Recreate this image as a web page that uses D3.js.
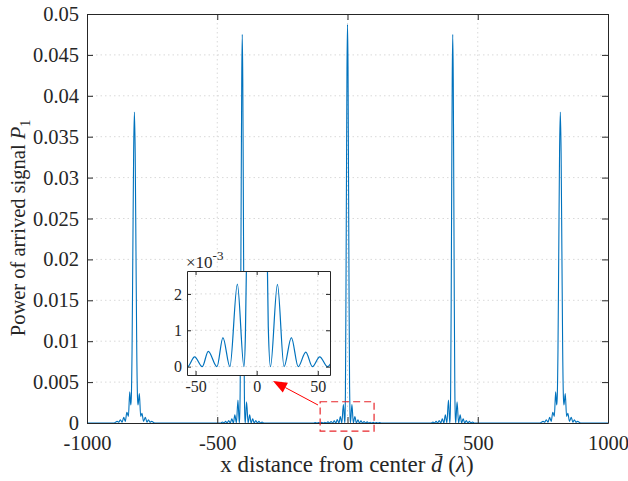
<!DOCTYPE html>
<html><head><meta charset="utf-8">
<script src="https://cdn.jsdelivr.net/npm/d3@7"></script>
<style>
html,body{margin:0;padding:0;background:#fff;}
svg text{font-family:"Liberation Serif","Times New Roman",serif;fill:#262626;}
</style></head>
<body><svg id="c" width="628" height="481"></svg>
<script>
// ---- data ----
const xTicks = [-1000, -500, 0, 500, 1000];
const xTickLabels = ["-1000", "-500", "0", "500", "1000"];
const yTicks = [0, 0.005, 0.01, 0.015, 0.02, 0.025, 0.03, 0.035, 0.04, 0.045, 0.05];
const yTickLabels = ["0","0.005","0.01","0.015","0.02","0.025","0.03","0.035","0.04","0.045","0.05"];
const insetXTicks = [-50, 0, 50];
const insetXTickLabels = ["-50", "0", "50"];
const insetYTicks = [0, 0.001, 0.002];
const insetYTickLabels = ["0", "1", "2"];

// cluster centres and which lobe template each uses
const clusterCenters = [-818, -404, 0, 404, 817];
const clusterKinds = ["outer", "inner", "center", "inner", "outer"];

// centre cluster (offsets from centre, power)
const centerOffsets = [-130,-124,-117,-111,-105,-99,-93,-87,-81,-75,-69,-63,-56.5,-50.8,-44.5,-39.6,-32.5,-27.6,-21.9,-15.8,-10.4,-9.2,-8,-6,-4,-2,0,2,4,6,8,9.5,11.3,17,22.4,28.4,34,40.2,45.6,51.6,58,63.5,69.5,75.5,81,87,93,99,105,111,117,123,130];
const centerValues  = [0,0.00005,0,0.00006,0,0.00008,0,0.0001,0,0.00014,0,0.00019,0,0.00027,0,0.00042,0,0.0008,0,0.00227,0,0.0009,0.0036,0.015,0.0295,0.0432,0.0487,0.0436,0.0300,0.0155,0.0045,0.0011,0,0.00226,0,0.0008,0,0.0004,0,0.00027,0,0.00019,0,0.00014,0,0.0001,0,0.00008,0,0.00006,0,0.00005,0];

// clusters at about ±404
const innerOffsets = [-82,-76,-70,-64,-58,-52,-46,-40,-34,-28.5,-22.5,-16.5,-11.5,-10,-8,-6,-4,-2,0,2,4,6,8,10,11.5,16.5,22.5,28.5,34,40,46,52,58,64,70,76,82];
const innerValues  = [0,0.00012,0,0.0002,0,0.0003,0,0.0005,0,0.001,0,0.0028,0,0.0006,0.0042,0.0145,0.029,0.042,0.0475,0.042,0.029,0.0145,0.0042,0.0006,0,0.0026,0,0.001,0,0.0005,0,0.0003,0,0.0002,0,0.00012,0];

// clusters at about ±817
const outerOffsets = [-78,-66,-60,-54,-47,-41,-35,-29,-23,-18,-14,-12,-9,-6,-3,0,3,6,9,12,14,19,24,29,35,42,48,54,60,66,78];
const outerValues  = [0,0.0002,0.0001,0.0004,0.0001,0.0007,0.0002,0.0013,0.0008,0.0038,0.0022,0.003,0.009,0.021,0.033,0.038,0.033,0.021,0.009,0.003,0.0022,0.0036,0.0008,0.0012,0.0002,0.0007,0.0001,0.0004,0.0001,0.0002,0];

const templates = {
  center: {o: centerOffsets, v: centerValues},
  inner:  {o: innerOffsets,  v: innerValues},
  outer:  {o: outerOffsets,  v: outerValues}
};

// build the full series from the read points
const series = [[-1000, 0]];
clusterCenters.forEach((c, i) => {
  const t = templates[clusterKinds[i]];
  t.o.forEach((o, j) => series.push([c + o, t.v[j]]));
});
series.push([1000, 0]);
const centerSeries = centerOffsets.map((o, j) => [o, centerValues[j]]);

// ---- drawing ----
const svg = d3.select("#c");
const W = 628, H = 481;
const m = {l: 87, r: 608, t: 14, b: 423};
const x = d3.scaleLinear().domain([-1000, 1000]).range([m.l, m.r]);
const y = d3.scaleLinear().domain([0, 0.05]).range([m.b, m.t]);
const axisColor = "#262626";
const gridColor = "#d9d9d9";
const lineColor = "#0072BD";

svg.append("rect").attr("x", 0).attr("y", 0).attr("width", W).attr("height", H).attr("fill", "#fff");

// grid
const grid = svg.append("g");
grid.selectAll(".gx").data(xTicks.slice(1, -1)).join("line")
  .attr("x1", d => x(d)).attr("x2", d => x(d)).attr("y1", m.t).attr("y2", m.b)
  .attr("stroke", gridColor).attr("stroke-width", 1).attr("stroke-dasharray", "1.5,3");
grid.selectAll(".gy").data(yTicks.slice(1, -1)).join("line")
  .attr("y1", d => y(d)).attr("y2", d => y(d)).attr("x1", m.l).attr("x2", m.r)
  .attr("stroke", gridColor).attr("stroke-width", 1).attr("stroke-dasharray", "1.5,3");

// curve
const line = d3.line().x(d => x(d[0])).y(d => y(d[1])).curve(d3.curveMonotoneX);
svg.append("defs").append("clipPath").attr("id", "mainclip").append("rect")
  .attr("x", m.l).attr("y", m.t).attr("width", m.r - m.l).attr("height", m.b - m.t);
svg.append("path").datum(series).attr("d", line).attr("fill", "none")
  .attr("stroke", lineColor).attr("stroke-width", 1.1).attr("clip-path", "url(#mainclip)");

// axes
const xAx = svg.append("g").attr("transform", `translate(0,${m.b})`)
  .call(d3.axisBottom(x).tickValues(xTicks).tickSizeInner(-6).tickSizeOuter(0).tickPadding(12).tickFormat((d, i) => xTickLabels[i]));
const yAx = svg.append("g").attr("transform", `translate(${m.l},0)`)
  .call(d3.axisLeft(y).tickValues(yTicks).tickSizeInner(-6).tickSizeOuter(0).tickPadding(8).tickFormat((d, i) => yTickLabels[i]));
const xTop = svg.append("g").attr("transform", `translate(0,${m.t})`)
  .call(d3.axisTop(x).tickValues(xTicks).tickSizeInner(-6).tickSizeOuter(0).tickFormat(""));
const yRight = svg.append("g").attr("transform", `translate(${m.r},0)`)
  .call(d3.axisRight(y).tickValues(yTicks).tickSizeInner(-6).tickSizeOuter(0).tickFormat(""));
[xAx, yAx, xTop, yRight].forEach(g => {
  g.select(".domain").attr("stroke", axisColor).attr("stroke-width", 1);
  g.selectAll(".tick line").attr("stroke", axisColor).attr("stroke-width", 1);
  g.selectAll(".tick text").attr("font-size", 20.5).attr("fill", axisColor)
    .attr("font-family", "Liberation Serif, serif");
});

// axis labels
svg.append("text").attr("x", 347).attr("y", 472).attr("text-anchor", "middle").attr("font-size", 23)
  .call(t => {
    t.append("tspan").text("x distance from center ");
    t.append("tspan").attr("font-style", "italic").text("d\u0304");
    t.append("tspan").text(" (");
    t.append("tspan").attr("font-style", "italic").text("λ");
    t.append("tspan").text(")");
  });
svg.append("text").attr("transform", "translate(25,228) rotate(-90)").attr("text-anchor", "middle").attr("font-size", 20.5)
  .call(t => {
    t.append("tspan").text("Power of arrived signal ");
    t.append("tspan").attr("font-style", "italic").text("P");
    t.append("tspan").attr("font-size", 14).attr("dy", 5).text("1");
  });

// red dashed zoom box and arrow
const zoomBox = {x0: -105, x1: 102, y0: -0.001, y1: 0.0026};
svg.append("rect").attr("x", x(zoomBox.x0)).attr("y", y(zoomBox.y1))
  .attr("width", x(zoomBox.x1) - x(zoomBox.x0)).attr("height", y(zoomBox.y0) - y(zoomBox.y1))
  .attr("fill", "none").attr("stroke", "#E8262B").attr("stroke-width", 1.2).attr("stroke-dasharray", "7,4");
const a0 = [318, 405], a1 = [273, 381];
const ang = Math.atan2(a1[1] - a0[1], a1[0] - a0[0]);
const hl = 14, hw = 5.5;
const bx = a1[0] - hl * Math.cos(ang), by = a1[1] - hl * Math.sin(ang);
svg.append("line").attr("x1", a0[0]).attr("y1", a0[1]).attr("x2", bx).attr("y2", by)
  .attr("stroke", "#FF0000").attr("stroke-width", 1);
svg.append("path")
  .attr("d", `M${a1[0]},${a1[1]} L${bx + hw * Math.sin(ang)},${by - hw * Math.cos(ang)} L${bx - hw * Math.sin(ang)},${by + hw * Math.cos(ang)} Z`)
  .attr("fill", "#FF0000");

// ---- inset ----
const ib = {l: 187, r: 330, t: 271, b: 375};
const ix = d3.scaleLinear().domain([-57, 60]).range([ib.l, ib.r]);
const iy = d3.scaleLinear().domain([-0.00023, 0.00263]).range([ib.b, ib.t]);
svg.append("rect").attr("x", ib.l).attr("y", ib.t).attr("width", ib.r - ib.l).attr("height", ib.b - ib.t).attr("fill", "#fff");
const ig = svg.append("g");
ig.selectAll(".igx").data(insetXTicks).join("line")
  .attr("x1", d => ix(d)).attr("x2", d => ix(d)).attr("y1", ib.t).attr("y2", ib.b)
  .attr("stroke", gridColor).attr("stroke-dasharray", "1.5,3");
ig.selectAll(".igy").data(insetYTicks).join("line")
  .attr("y1", d => iy(d)).attr("y2", d => iy(d)).attr("x1", ib.l).attr("x2", ib.r)
  .attr("stroke", gridColor).attr("stroke-dasharray", "1.5,3");
svg.append("defs").append("clipPath").attr("id", "iclip").append("rect")
  .attr("x", ib.l).attr("y", ib.t).attr("width", ib.r - ib.l).attr("height", ib.b - ib.t);
const iline = d3.line().x(d => ix(d[0])).y(d => iy(d[1])).curve(d3.curveMonotoneX);
svg.append("path").datum(centerSeries).attr("d", iline).attr("fill", "none")
  .attr("stroke", lineColor).attr("stroke-width", 1.2).attr("clip-path", "url(#iclip)");
const ixAx = svg.append("g").attr("transform", `translate(0,${ib.b})`)
  .call(d3.axisBottom(ix).tickValues(insetXTicks).tickSizeInner(-4).tickSizeOuter(0).tickPadding(6).tickFormat((d, i) => insetXTickLabels[i]));
const iyAx = svg.append("g").attr("transform", `translate(${ib.l},0)`)
  .call(d3.axisLeft(iy).tickValues(insetYTicks).tickSizeInner(-4).tickSizeOuter(0).tickPadding(5).tickFormat((d, i) => insetYTickLabels[i]));
const ixTop = svg.append("g").attr("transform", `translate(0,${ib.t})`)
  .call(d3.axisTop(ix).tickValues(insetXTicks).tickSizeInner(-4).tickSizeOuter(0).tickFormat(""));
const iyRight = svg.append("g").attr("transform", `translate(${ib.r},0)`)
  .call(d3.axisRight(iy).tickValues(insetYTicks).tickSizeInner(-4).tickSizeOuter(0).tickFormat(""));
[ixAx, iyAx, ixTop, iyRight].forEach(g => {
  g.select(".domain").attr("stroke", axisColor).attr("stroke-width", 1);
  g.selectAll(".tick line").attr("stroke", axisColor);
  g.selectAll(".tick text").attr("font-size", 16).attr("fill", axisColor)
    .attr("font-family", "Liberation Serif, serif");
});
svg.append("text").attr("x", ib.l - 1).attr("y", ib.t - 3).attr("font-size", 17)
  .call(t => {
    t.append("tspan").text("×10");
    t.append("tspan").attr("font-size", 13).attr("dy", -8).text("-3");
  });
</script></body></html>
